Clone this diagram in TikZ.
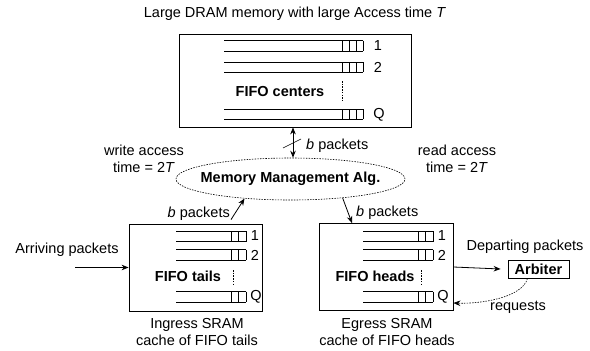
\documentclass[tikz,border=0pt]{standalone}
\usepackage{fontspec}
\setmainfont{Liberation Sans}
\usetikzlibrary{arrows.meta,shapes.geometric}
\newcommand\fifoq[5]{% xL, xR, ytop, ybot, list of cell x
  \draw[qline] (#1,#3) -- (#2,#3) (#1,#4) -- (#2,#4) (#2,#3) -- (#2,#4);
  \foreach \cx in {#5} {\draw[qline] (\cx,#3) -- (\cx,#4);}
}
\tikzset{
  lbl/.style={font=\fontsize{14.5}{17}\selectfont, inner sep=0pt, align=center},
  bold/.style={lbl, font=\fontsize{14.5}{17}\selectfont\bfseries},
  box/.style={draw, line width=0.8pt, inner sep=0pt},
  qline/.style={line width=0.6pt},
  arr/.style={-{Stealth[length=7pt,width=5.5pt]}, line width=0.8pt},
  darr/.style={{Stealth[length=7pt,width=5.5pt]}-{Stealth[length=7pt,width=5.5pt]}, line width=0.8pt},
  dotl/.style={line width=0.6pt, dash pattern=on 1.5pt off 1.2pt},
}
\begin{document}
\begin{tikzpicture}[x=1pt,y=-1pt]
\useasboundingbox (0,0) rectangle (590,351);
% title
\node[lbl] (title) at (295,14) {Large DRAM memory with large Access time \textit{T}};
% DRAM box
\node[box, minimum width=232pt, minimum height=93pt] (top) at (295,80.5) {};
\fifoq{224}{363}{40.7}{51}{342,349,356}
\fifoq{224}{363}{62.3}{72.3}{342,349,356}
\fifoq{224}{363}{109.3}{119.3}{342,349,356}
\node[lbl] (t1) at (378,46) {1};
\node[lbl] (t2) at (378,67.5) {2};
\node[lbl] (tq) at (379,114.5) {Q};
\draw[dotl] (342,81) -- (342,101);
\node[bold] (tc) at (280,92) {FIFO centers};
% ellipse
\node[draw, ellipse, dotl, minimum width=229pt, minimum height=42pt, inner sep=0pt] (ell) at (290.5,179) {};
\node[bold] (mm) at (290.5,179) {Memory Management Alg.};
\draw[darr] ([xshift=-2pt]top.south) -- ([xshift=2.5pt]ell.north);
\draw[line width=0.6pt] (283,148) -- (301,139);
\node[lbl, anchor=west] (bp0) at (306,146) {\textit{b} packets};
% access labels
\node[lbl] (wa) at (144,158.5) {write access\\time = 2\textit{T}};
\node[lbl] (ra) at (457,158.5) {read access\\time = 2\textit{T}};
% left box
\node[box, minimum width=133pt, minimum height=87pt] (lbox) at (195.5,267.5) {};
\fifoq{176}{246}{231}{241.5}{231,238.5}
\fifoq{176}{246}{249.5}{260}{231,238.5}
\fifoq{176}{246}{291.5}{302}{231,238.5}
\node[lbl] (l1) at (255,236) {1};
\node[lbl] (l2) at (255,255) {2};
\node[lbl] (lq) at (256,297) {Q};
\draw[dotl] (233,270) -- (233,284);
\node[bold] (lc) at (188,276) {FIFO tails};
\node[lbl] (ing) at (197,332) {Ingress SRAM\\cache of FIFO tails};
\node[lbl] (arrv) at (67,250) {Arriving packets};
\coordinate (ain) at (75,267.5);
\draw[arr] (ain) -- (lbox.west);
\node[lbl, anchor=east] (bp1) at (230,214) {\textit{b} packets};
\draw[arr] ([shift={(35.5,-4)}]lbox.north) -- (ell.203.6);
% right box
\node[box, minimum width=134pt, minimum height=87pt] (rbox) at (386,267) {};
\fifoq{363}{433}{231}{241.5}{418,425.5}
\fifoq{363}{433}{249.5}{260}{418,425.5}
\fifoq{363}{433}{291.5}{302}{418,425.5}
\node[lbl] (r1) at (442,236) {1};
\node[lbl] (r2) at (442,255) {2};
\node[lbl] (rq) at (443,297) {Q};
\draw[dotl] (421,270) -- (421,284);
\node[bold] (rc) at (375,276) {FIFO heads};
\node[lbl] (egr) at (387,332) {Egress SRAM\\cache of FIFO heads};
\draw[arr] (ell.340) -- ([shift={(-34,0)}]rbox.north);
\node[lbl, anchor=west] (bp2) at (356,213) {\textit{b} packets};
% arbiter
\node[box, bold, draw, inner sep=0pt, minimum width=61pt, minimum height=18pt] (arb) at (538.5,269) {Arbiter};
\node[lbl] (dep) at (525,247) {Departing packets};
\draw[arr] (rbox.east) -- ([xshift=-7pt]arb.west);
\draw[arr, dotl] ([xshift=-11pt]arb.south) .. controls (522,298) and (480,304) .. ([yshift=-36pt]rbox.east);
\node[lbl] (req) at (518,307) {requests};
\end{tikzpicture}
\end{document}
